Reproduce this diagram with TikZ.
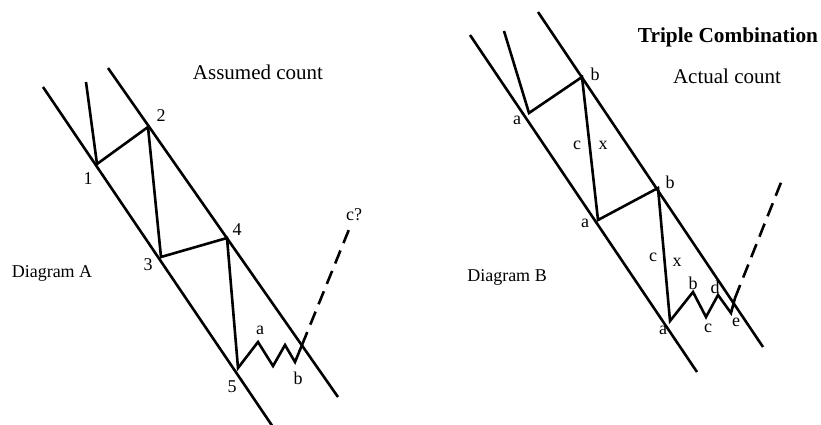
\documentclass[tikz,border=0pt]{standalone}
\usepackage{fontspec}
\setmainfont{Liberation Serif}
\usetikzlibrary{positioning}
\tikzset{
channel/.style={line width=2.6pt},
wave/.style={line width=2.6pt,line join=miter},
future/.style={line width=2.6pt,dash pattern=on 14pt off 8pt},
lbl/.style={font=\fontsize{18}{18}\selectfont,inner sep=0pt},
caption/.style={font=\fontsize{21}{21}\selectfont,inner sep=0pt},
title/.style={font=\fontsize{21.3}{21}\selectfont\bfseries,inner sep=0pt}
}
\begin{document}
\begin{tikzpicture}[x=1pt,y=-1pt]
\useasboundingbox (0,0) rectangle (821,425);
% Diagram A
\coordinate (loA1) at (43,87);\coordinate (loA2) at (273,427);
\coordinate (upA1) at (108,68);\coordinate (upA2) at (338,397);
\coordinate (startA) at (86,82);
\coordinate (w1) at (97,164);\coordinate (w2) at (148,127);\coordinate (w3) at (161,257);
\coordinate (w4) at (227,238);\coordinate (w5) at (238,368);
\coordinate (za) at (258,342);\coordinate (zb1) at (273,366);\coordinate (zb2) at (285,345);
\coordinate (zb) at (295,362);\coordinate (zend) at (302,345);\coordinate (cq) at (350,227);
\draw[channel](loA1)--(loA2);\draw[channel](upA1)--(upA2);
\draw[wave](startA)--(w1)--(w2)--(w3)--(w4)--(w5)--(za)--(zb1)--(zb2)--(zb)--(zend);
\draw[future](zend)--(cq);
\node[lbl](n1) at (88,179){1};\node[lbl](n2) at (161,116){2};\node[lbl](n3) at (148,265){3};
\node[lbl](n4) at (237,230){4};\node[lbl](n5) at (232,387){5};
\node[lbl](na) at (260,330){a};\node[lbl](nb) at (298,378){b};\node[lbl](nc) at (354,215){c?};
\node[caption](assumed) at (258,72){Assumed count};
\node[lbl](diagA) at (52,273){Diagram A};
% Diagram B
\coordinate (loB1) at (470,35);\coordinate (loB2) at (697,372);
\coordinate (upB1) at (538,12);\coordinate (upB2) at (763,347);
\coordinate (startB) at (504,31);
\coordinate (v1) at (529,113);\coordinate (v2) at (582,77);\coordinate (v3) at (598,220);
\coordinate (v4) at (658,188);\coordinate (v5) at (670,321);
\coordinate (tb) at (693,292);\coordinate (tc) at (706,317);\coordinate (td) at (718,295);
\coordinate (te) at (731,313);\coordinate (tend) at (735,298);\coordinate (up) at (782,180);
\draw[channel](loB1)--(loB2);\draw[channel](upB1)--(upB2);
\draw[wave](startB)--(v1)--(v2)--(v3)--(v4)--(v5)--(tb)--(tc)--(td)--(te)--(tend);
\draw[future](tend)--(up);
\node[lbl](ma1) at (517,120){a};\node[lbl](mb1) at (595,74){b};
\node[lbl](mc1) at (577,145){c};\node[lbl](mx1) at (603,145){x};
\node[lbl](mb2) at (670,182){b};\node[lbl](ma2) at (585,223){a};
\node[lbl](mc2) at (653,257){c};\node[lbl](mx2) at (677,262){x};
\node[lbl](ma3) at (663,330){a};\node[lbl](mb3) at (693,283){b};\node[lbl](mc3) at (708,328){c};
\node[lbl](md3) at (715,287){d};\node[lbl](me3) at (736,322){e};
\node[title](triple) at (728,37){Triple Combination};
\node[caption](actual) at (727,76){Actual count};
\node[lbl](diagB) at (507,277){Diagram B};
\end{tikzpicture}
\end{document}
